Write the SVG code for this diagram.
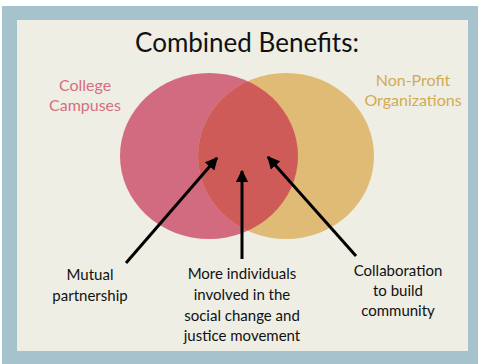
<svg xmlns="http://www.w3.org/2000/svg" width="478" height="364" viewBox="0 0 478 364">
<style>
.t{font-family:Lato,"Open Sans","Noto Sans",sans-serif;text-anchor:middle}
.lbl{font-size:15px;fill:#111}
.side{font-size:16px}
.arrow{stroke:#000;stroke-width:3;fill:none}
</style>
<defs>
<marker id="ah" viewBox="0 0 10 10" refX="9" refY="5" markerWidth="4.2" markerHeight="4.2" orient="auto" markerUnits="strokeWidth">
<path d="M0,0 L10,5 L0,10 z" fill="#000"/>
</marker>
<clipPath id="pinkClip"><ellipse cx="209" cy="156" rx="89" ry="83"/></clipPath>
</defs>
<rect x="0" y="0" width="478" height="364" fill="#ffffff"/>
<rect x="2" y="6" width="476" height="358" fill="#a5c2cd"/>
<rect x="17" y="20" width="451" height="331" fill="#eeeee4"/>
<text class="t" x="247" y="52" font-size="26" fill="#111">Combined Benefits:</text>
<g id="college">
<ellipse cx="209" cy="156" rx="89" ry="83" fill="#d26b80"/>
<text class="t side" x="85" y="91" fill="#d4707f">College</text>
<text class="t side" x="85" y="111" fill="#d4707f">Campuses</text>
</g>
<g id="nonprofit">
<ellipse cx="286" cy="156" rx="88" ry="83" fill="#dfbb75"/>
<text class="t side" x="413" y="86" fill="#d2ab55">Non-Profit</text>
<text class="t side" x="413" y="106" fill="#d2ab55">Organizations</text>
</g>
<g id="overlap">
<ellipse cx="286" cy="156" rx="88" ry="83" fill="#cf5b58" clip-path="url(#pinkClip)"/>
</g>
<g id="connectors">
<line class="arrow" x1="126" y1="263" x2="217" y2="158" marker-end="url(#ah)"/>
<line class="arrow" x1="242" y1="259" x2="242" y2="171" marker-end="url(#ah)"/>
<line class="arrow" x1="356" y1="256" x2="268" y2="157" marker-end="url(#ah)"/>
</g>
<g id="mutual">
<text class="t lbl" x="90" y="280">Mutual</text>
<text class="t lbl" x="90" y="301">partnership</text>
</g>
<g id="individuals">
<text class="t lbl" x="242" y="279">More individuals</text>
<text class="t lbl" x="242" y="300">involved in the</text>
<text class="t lbl" x="242" y="321">social change and</text>
<text class="t lbl" x="242" y="341">justice movement</text>
</g>
<g id="collaboration">
<text class="t lbl" x="398" y="276">Collaboration</text>
<text class="t lbl" x="398" y="296">to build</text>
<text class="t lbl" x="398" y="316">community</text>
</g>
</svg>
